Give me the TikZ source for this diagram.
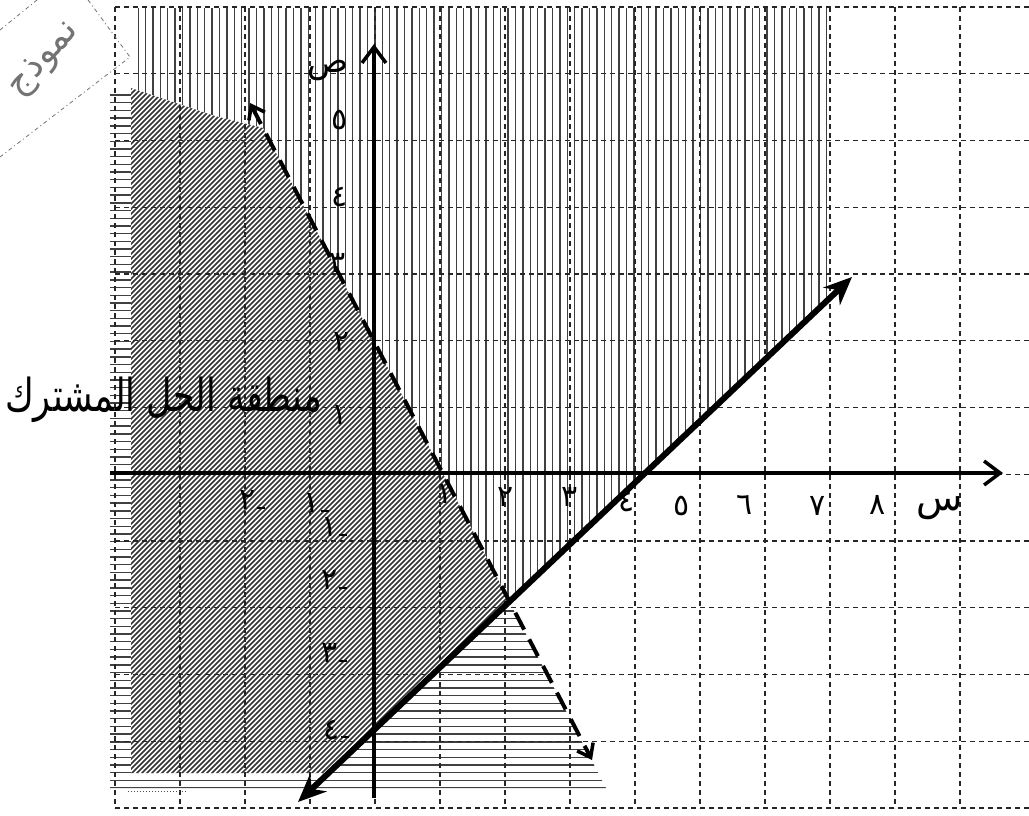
\documentclass[tikz,border=0pt]{standalone}
\usepackage{fontspec}
\TeXXeTstate=1
\newfontfamily\arabicfont[Script=Arabic]{DejaVu Sans}
\usetikzlibrary{arrows.meta,calc}
\begin{document}
\begin{tikzpicture}[x=1pt,y=-1pt,
  hatchv/.style={line width=1.4pt,draw=black!75},
  hatchh/.style={line width=1.4pt,draw=black!75},
  hatchd/.style={line width=1.5pt,draw=black!80},
  gridl/.style={line width=1.1pt,draw=black!85,dash pattern=on 5pt off 4pt},
  axisl/.style={line width=3.5pt,-{Straight Barb[length=16pt,width=24pt,line width=3.5pt]}},
  solidl/.style={line width=6pt,{Stealth[length=28pt,width=24pt]}-{Stealth[length=28pt,width=24pt]}},
  dashl/.style={line width=4pt,dash pattern=on 19pt off 11pt,{Straight Barb[length=12pt,width=18pt,line width=3.5pt]}-{Straight Barb[length=12pt,width=18pt,line width=3.5pt]}},
  lab/.style={font=\fontsize{30}{32}\arabicfont,inner sep=0pt}
]
\newcommand{\neglab}[1]{\hbox{\arabicfont #1}\kern1.5pt\rule[1pt]{8pt}{2pt}}
\useasboundingbox (0,0) rectangle (1029,815);
\clip (0,0) rectangle (1029,815);
\fill[white] (0,0) rectangle (1029,815);

% key points
\coordinate (A1) at (298,802);
\coordinate (A2) at (852,277);
\coordinate (B1) at (250,103);
\coordinate (B2) at (592,760);
\coordinate (I) at (intersection of A1--A2 and B1--B2);

% vertical hatching (above solid line)
\begin{scope}
  \clip (138,8) -- (830,8) -- (830,298) -- (328.6,773) -- (138,773) -- cycle;
  \foreach \x in {138,145.4,...,832} \draw[hatchv] (\x,0) -- (\x,815);
\end{scope}

% horizontal hatching (left of dashed line)
\begin{scope}
  \clip (110,94) -- (133,94) -- (215,117) -- (263,128) -- (606,788) -- (110,788) -- cycle;
  \foreach \y in {95,102.7,...,790} \draw[hatchh] (0,\y) -- (1029,\y);
\end{scope}

% common region: diagonal hatching
\fill[white] (131,88) -- (215,116) -- (263,128) -- (I) -- (328.6,773) -- (131,773) -- cycle;
\begin{scope}
  \clip (131,88) -- (215,116) -- (263,128) -- (I) -- (328.6,773) -- (131,773) -- cycle;
  \foreach \k in {-700,-695,...,560} \draw[hatchd] (\k,815) -- ({\k+815},0);
\end{scope}

% grid
\foreach \i in {0,...,13} \draw[gridl] ({115+65*\i},7) -- ({115+65*\i},808);
\foreach \j in {0,...,12} \draw[gridl] (115,{7+66.75*\j}) -- (1029,{7+66.75*\j});
\draw[line width=1pt,dotted,black!70] (128,791) -- (186,791);

% axes
\coordinate (xs) at (110,473);
\coordinate (xe) at (1003,473);
\coordinate (ys) at (374,798);
\coordinate (ye) at (374,44);
\draw[axisl] (xs) -- (xe);
\draw[axisl] (ys) -- (ye);

% boundary lines
\draw[solidl] (A1) -- (A2);
\draw[dashl] (B1) -- (B2);

% x-axis labels
\node[lab] (x1) at (445,494) {١};
\node[lab] (x2) at (506,497) {٢};
\node[lab] (x3) at (570,497) {٣};
\node[lab] (x4) at (627,502) {٤};
\node[lab] (x5) at (682,506) {٥};
\node[lab] (x6) at (745,505) {٦};
\node[lab] (x7) at (818,506) {٧};
\node[lab] (x8) at (878,505) {٨};
\node[lab,font=\fontsize{38}{40}\arabicfont] (xl) at (940,508) {س};
\node[lab] (xm2) at (252,500) {\neglab{٢}};
\node[lab] (xm1) at (316,503) {\neglab{١}};

% y-axis labels
\node[lab,font=\fontsize{34}{36}\arabicfont] (yl) at (328,70) {ص};
\node[lab] (y5) at (340,120) {٥};
\node[lab] (y4) at (340,197) {٤};
\node[lab] (y3) at (338,263) {٣};
\node[lab] (y2) at (342,342) {٢};
\node[lab] (y1) at (340,415) {١};
\node[lab] (ym1) at (334,527) {\neglab{١}};
\node[lab] (ym2) at (334,580) {\neglab{٢}};
\node[lab] (ym3) at (334,653) {\neglab{٣}};
\node[lab] (ym4) at (336,730) {\neglab{٤}};

% region label
\node[inner sep=0pt,anchor=east] (region) at (322,400)
  {\scalebox{1}[1.3]{\fontsize{35}{40}\arabicfont\beginR منطقة الحل المشترك\endR}};

% stamp
\draw[black!55,line width=0.8pt,dash pattern=on 4pt off 3pt on 1pt off 3pt]
  (0,30) -- (69,-26) -- (130,57) -- (0,157);
\node[text=black!55,rotate=48,inner sep=0pt] (stamp) at (45,60)
  {\fontsize{36}{38}\arabicfont\beginR نموذج\endR};
\end{tikzpicture}
\end{document}
